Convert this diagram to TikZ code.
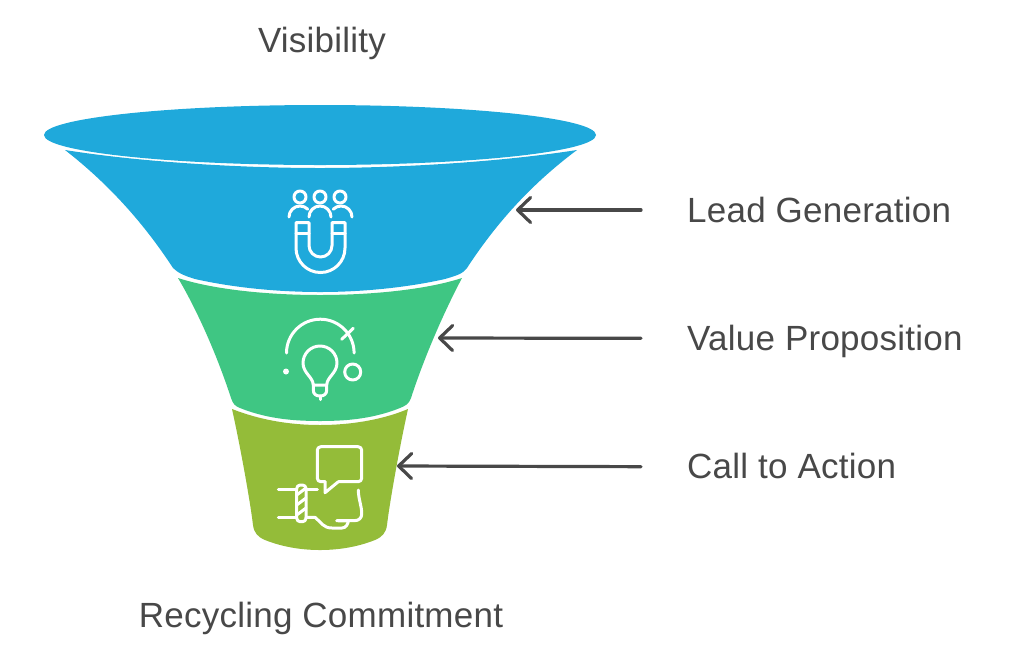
\documentclass[tikz,border=0pt]{standalone}
\usepackage{fontspec}
\setmainfont[LetterSpace=0.7]{Liberation Sans}
\usetikzlibrary{positioning, arrows.meta}
\definecolor{funnelblue}{HTML}{1FA9DB}
\definecolor{funnelgreen}{HTML}{3FC683}
\definecolor{funnelolive}{HTML}{94BC39}
\definecolor{inkgray}{HTML}{484848}

\begin{document}
\begin{tikzpicture}[
     x=1pt, y=-1pt,
     node distance = 92pt and 0pt,
   section/.style = {fill=#1, draw=none},
      icon/.style = {draw=white, line width=3pt, line cap=round, line join=round},
   caption/.style = {text=inkgray, inner sep=0pt, text height=30pt, text depth=6pt,
                     font=\fontsize{35}{40}\selectfont},
   pointer/.style = {draw=inkgray, line width=3.2pt, line cap=round, shorten <=46pt,
                     -{Straight Barb[length=13pt,width=25pt,line width=3.2pt,round]}}
                    ]
\useasboundingbox (0,0) rectangle (1024,657);
% funnel
\fill[section=funnelblue] (320,135) ellipse [x radius=276, y radius=30];
\fill[section=funnelblue] (65,150) .. controls (140,162) and (240,168) .. (320,168)
     .. controls (400,168) and (500,162) .. (577,150)
     .. controls (530,185) and (495,225) .. (467,268)
     .. controls (463,274) and (455,276) .. (445,279)
     .. controls (405,288) and (360,292) .. (320,292)
     .. controls (280,292) and (235,288) .. (195,279)
     .. controls (185,276) and (178,273) .. (173,268)
     .. controls (145,225) and (110,185) .. (65,150) -- cycle;
\fill[section=funnelgreen] (178,278) .. controls (215,290) and (270,295) .. (320,295)
     .. controls (370,295) and (425,290) .. (462,278)
     .. controls (445,310) and (425,355) .. (411,398)
     .. controls (409,404) and (405,406) .. (400,408)
     .. controls (375,418) and (350,421) .. (320,421)
     .. controls (290,421) and (265,418) .. (240,408)
     .. controls (235,406) and (233,404) .. (231,398)
     .. controls (217,355) and (197,310) .. (178,278) -- cycle;
\fill[section=funnelolive] (232,409) .. controls (260,420) and (290,425) .. (320,425)
     .. controls (350,425) and (382,420) .. (408,409)
     .. controls (400,445) and (390,500) .. (387,525)
     .. controls (386,533) and (382,537) .. (375,540)
     .. controls (355,548) and (335,550) .. (320,550)
     .. controls (305,550) and (285,548) .. (265,540)
     .. controls (258,537) and (254,533) .. (253,525)
     .. controls (250,500) and (240,445) .. (232,409) -- cycle;
% magnet and people
\draw[icon] (300,197) circle [radius=6] (320,197) circle [radius=6] (340,197) circle [radius=6];
\draw[icon] (289,217) arc [start angle=180, end angle=315, radius=11];
\draw[icon] (309,217) arc [start angle=180, end angle=360, radius=11];
\draw[icon] (352,217) arc [start angle=360, end angle=225, radius=11];
\draw[icon] (296,222.5) -- (309,222.5) -- (309,245.5)
     arc [start angle=180, end angle=0, radius=11.5] -- (332,222.5) -- (345,222.5) -- (345,248)
     arc [start angle=0, end angle=180, radius=24.5] -- cycle;
\draw[icon] (296,233) -- (309,233) (332,233) -- (345,233);
% bulb
\draw[icon] (286.5,353) arc [start angle=180, end angle=360, radius=33.8];
\draw[icon] (341.7,339.3) -- (353.3,328.3);
\fill[white] (286,371.5) circle [radius=3];
\draw[icon] (352.7,372) circle [radius=8];
\draw[icon] (313.3,385) .. controls (313,377) and (303,373) .. (303,363)
     arc [start angle=180, end angle=360, radius=17]
     .. controls (337,373) and (327,377) .. (326.7,385) -- cycle;
\draw[icon] (313.3,385) -- (313.3,390) .. controls (313.3,394) and (316,396) .. (320,396)
     .. controls (324,396) and (326.7,394) .. (326.7,390) -- (326.7,385);
\draw[icon] (320,396) -- (320,399.5);
% handshake and speech bubble
\draw[icon, rounded corners=3.5pt] (325,481.7) -- (317.3,481.7) -- (317.3,446.7) -- (361.7,446.7)
     -- (361.7,481.7) -- (338.3,481.7);
\draw[icon] (338.3,481.7) -- (325,492.7) -- (325,481.7);
\draw[icon, rounded corners=3.5pt] (296.7,485) rectangle (306,521.7);
\draw[icon] (296.7,495) -- (306,488) (296.7,505) -- (306,498) (296.7,515) -- (306,508);
\draw[icon] (278.3,489) -- (296.7,489) (306,489) -- (317.3,489) (278.3,517.3) -- (296.7,517.3);
\draw[icon] (306,517.3) -- (315,517.3) .. controls (321,522) and (323,528) .. (332,528)
     -- (342,528) .. controls (346,528) and (348,524) .. (348.3,521) -- (336.7,520.7) -- (354,520.7)
     .. controls (359,520.7) and (361.7,518) .. (361.7,514) .. controls (361.7,505) and (358.5,500) .. (358.3,490);
% labels
\node (top) [caption] at (322,40) {Visibility};
\node (bottom) [caption] at (321,615) {Recycling Commitment};
\node (lead) [caption, anchor=west] at (687,210) {Lead Generation};
\node (value) [caption, below=of lead.south west, anchor=north west] {Value Proposition};
\node (call) [caption, below=of value.south west, anchor=north west] {Call to Action};
\coordinate (leadtip) at (516,210);
\coordinate (valuetip) at (438,338);
\coordinate (calltip) at (397,466);
\draw[pointer] (lead.west) -- (leadtip);
\draw[pointer] (value.west) -- (valuetip);
\draw[pointer] (call.west) -- (calltip);
\end{tikzpicture}
\end{document}
